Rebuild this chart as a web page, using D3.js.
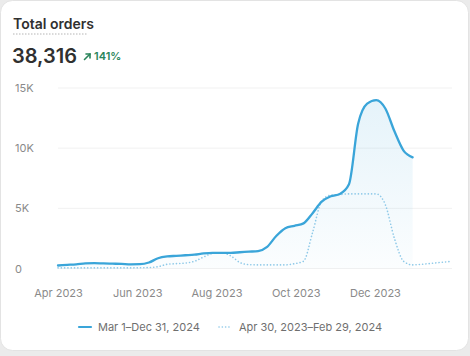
<!DOCTYPE html>
<html>
<head>
<meta charset="utf-8">
<script src="https://cdn.jsdelivr.net/npm/d3@7"></script>
<style>
  html, body { margin: 0; padding: 0; background: #ebebeb; }
  body { width: 470px; height: 356px; overflow: hidden; font-family: Inter, "Noto Sans", sans-serif; }
  svg { display: block; }
</style>
</head>
<body>
<svg id="chart" width="470" height="356"></svg>
<script>
// ---- data ----
const title = "Total orders";
const totalValue = "38,316";
const changeLabel = "141%";
const startDate = "2023-04-30";     // first weekly point
const currentLabel = "Mar 1–Dec 31, 2024";
const previousLabel = "Apr 30, 2023–Feb 29, 2024";
// weekly orders, current period (solid)
const currentValues = [250, 300, 350, 420, 450, 420, 400, 380, 350, 360,
  500, 850, 1000, 1050, 1100, 1150, 1250, 1300, 1300, 1300,
  1350, 1400, 1450, 1800, 2700, 3350, 3550, 3750, 4600, 5550,
  6000, 6200, 7000, 12000, 13700, 14000, 13300, 11400, 9800, 9240];
// weekly orders, previous period (dotted)
const previousValues = [50, 50, 50, 50, 50, 50, 50, 50, 50, 60,
  80, 150, 350, 400, 450, 600, 950, 1250, 1300, 1050,
  500, 320, 300, 300, 300, 300, 400, 600, 3000, 5600,
  6100, 6150, 6200, 6200, 6200, 6200, 5300, 2500, 600, 300,
  350, 420, 500, 570];
const yTicks = [0, 5000, 10000, 15000];
const yTickLabels = ["0", "5K", "10K", "15K"];
const xTickDates = ["2023-04-30", "2023-06-30", "2023-08-30", "2023-10-30", "2023-12-30"];

// ---- layout ----
const svg = d3.select("#chart");
const W = 470, H = 356;
const plot = { left: 58, right: 452, top: 88, bottom: 268.5 };
const lineColor = "#3aa5d9";
const dotColor = "#8ec9e8";

// card
svg.append("rect").attr("x", 0.5).attr("y", 0.5).attr("width", W - 2).attr("height", 350)
  .attr("rx", 12).attr("fill", "#ffffff").attr("stroke", "#e3e3e3");

const parse = d3.timeParse("%Y-%m-%d");
const d0 = parse(startDate);
const dateAt = i => d3.timeDay.offset(d0, 7 * i);
const cur = currentValues.map((v, i) => ({ date: dateAt(i), value: v }));
const prev = previousValues.map((v, i) => ({ date: dateAt(i), value: v }));

const x = d3.scaleTime().domain([d0, dateAt(previousValues.length - 1)]).range([plot.left, plot.right - 3]);
const y = d3.scaleLinear().domain([0, 15000]).range([plot.bottom, plot.top]);

// header
svg.append("text").attr("x", 13).attr("y", 29).text(title)
  .attr("font-size", 14).attr("font-weight", 600).attr("fill", "#303030");
svg.append("line").attr("x1", 13).attr("x2", 88).attr("y1", 34).attr("y2", 34)
  .attr("stroke", "#b5b5b5").attr("stroke-width", 1).attr("stroke-dasharray", "1.5,1.5");
svg.append("text").attr("x", 12).attr("y", 63).text(totalValue)
  .attr("font-size", 20).attr("font-weight", 600).attr("fill", "#303030");
// arrow
const ag = svg.append("g").attr("transform", "translate(84,53)").attr("stroke", "#29845a")
  .attr("stroke-width", 1.6).attr("fill", "none").attr("stroke-linecap", "round");
ag.append("path").attr("d", "M0.5,6.5 L6,1");
ag.append("path").attr("d", "M2,1 L6,1 L6,5");
svg.append("text").attr("x", 94).attr("y", 60).text(changeLabel)
  .attr("font-size", 11).attr("font-weight", 600).attr("fill", "#29845a");

// grid
svg.append("g").selectAll("line").data(yTicks).join("line")
  .attr("x1", plot.left).attr("x2", plot.right)
  .attr("y1", d => y(d)).attr("y2", d => y(d))
  .attr("stroke", "#f1f1f1").attr("stroke-width", 1);

// y labels
svg.append("g").selectAll("text").data(yTicks).join("text")
  .attr("x", 15).attr("y", d => y(d) + 4)
  .text((d, i) => yTickLabels[i])
  .attr("font-size", 11).attr("fill", "#8a8a8a");

// x axis labels via axis
const xAxis = d3.axisBottom(x).tickValues(xTickDates.map(parse))
  .tickFormat(d3.timeFormat("%b %Y")).tickSize(0).tickPadding(0);
const xg = svg.append("g").attr("transform", `translate(0,${plot.bottom + 28})`).call(xAxis);
xg.select(".domain").remove();
xg.selectAll("text").attr("font-size", 11).attr("fill", "#8a8a8a")
  .attr("font-family", "Inter, 'Noto Sans', sans-serif").attr("dy", 0);

// gradient
const defs = svg.append("defs");
const grad = defs.append("linearGradient").attr("id", "fillGrad")
  .attr("x1", 0).attr("y1", 0).attr("x2", 0).attr("y2", 1);
grad.append("stop").attr("offset", "0%").attr("stop-color", lineColor).attr("stop-opacity", 0.13);
grad.append("stop").attr("offset", "100%").attr("stop-color", lineColor).attr("stop-opacity", 0.02);

const curve = d3.curveMonotoneX;
const area = d3.area().x(d => x(d.date)).y0(y(0)).y1(d => y(d.value)).curve(curve);
svg.append("path").datum(cur).attr("d", area).attr("fill", "url(#fillGrad)");

const line = d3.line().x(d => x(d.date)).y(d => y(d.value)).curve(curve);
svg.append("path").datum(prev).attr("d", line).attr("fill", "none")
  .attr("stroke", dotColor).attr("stroke-width", 1.6)
  .attr("stroke-dasharray", "0.1,3.2").attr("stroke-linecap", "round");
svg.append("path").datum(cur).attr("d", line).attr("fill", "none")
  .attr("stroke", lineColor).attr("stroke-width", 2.3).attr("stroke-linecap", "round");

// legend
const ly = 327;
svg.append("line").attr("x1", 79).attr("x2", 91).attr("y1", ly).attr("y2", ly)
  .attr("stroke", lineColor).attr("stroke-width", 2.2).attr("stroke-linecap", "round");
svg.append("text").attr("x", 98).attr("y", ly + 4).text(currentLabel)
  .attr("font-size", 11).attr("fill", "#6f6f6f");
svg.append("line").attr("x1", 219).attr("x2", 231).attr("y1", ly).attr("y2", ly)
  .attr("stroke", dotColor).attr("stroke-width", 1.6)
  .attr("stroke-dasharray", "0.1,3.2").attr("stroke-linecap", "round");
svg.append("text").attr("x", 239).attr("y", ly + 4).text(previousLabel)
  .attr("font-size", 11).attr("fill", "#6f6f6f");
</script>
</body>
</html>
